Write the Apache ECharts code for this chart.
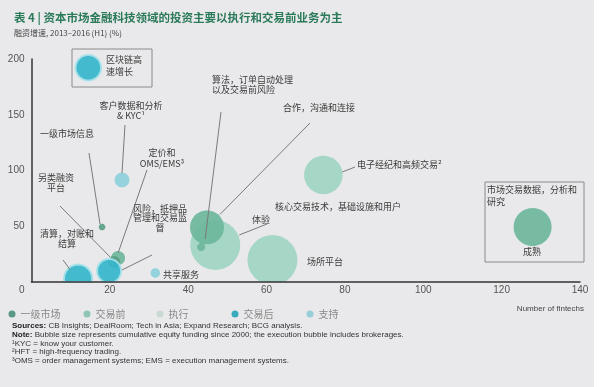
<!DOCTYPE html>
<html><head><meta charset="utf-8">
<script src="https://cdn.jsdelivr.net/npm/echarts@6/dist/echarts.min.js"></script>
<style>html,body{margin:0;padding:0;background:#fff}#c{width:600px;height:387px}</style>
</head><body><div id="c"></div>
<script>
// ---------- data ----------
const categories = ['一级市场', '交易前', '执行', '交易后', '支持'];
const xTicks = [0, 20, 40, 60, 80, 100, 120, 140];
const yTicks = [0, 50, 100, 150, 200];

// 一级市场 (primary market)
const primaryNames = ['一级市场信息', '另类融资平台'];
const primaryX = [18.0, 21.1];
const primaryY = [49.3, 17.9];
const primaryFunding = [1.2, 4];

// 交易前 (pre-trade)
const preTradeNames = ['定价和OMS/EMS', '合作，沟通和连接', '算法，订单自动处理以及交易前风险', '市场交易数据，分析和研究'];
const preTradeX = [22.1, 44.8, 43.3, 127.9];
const preTradeY = [21.5, 49.0, 31.4, 49.3];
const preTradeFunding = [5.4, 32, 1.8, 40];

// 执行 (execution)
const executionNames = ['核心交易技术，基础设施和用户体验', '场所平台', '电子经纪和高频交易'];
const executionX = [46.9, 61.5, 74.5];
const executionY = [33.2, 19.7, 96.0];
const executionFunding = [69, 69, 41];

// 交易后 (post-trade)
const postTradeNames = ['区块链高速增长', '清算，对账和结算', '风险，抵押品管理和交易监督'];
const postTradeX = [14.5, 11.9, 19.8];
const postTradeY = [192.2, 3.0, 9.9];
const postTradeFunding = [18, 22, 16];

// 支持 (support)
const supportNames = ['客户数据和分析 & KYC', '共享服务'];
const supportX = [23.1, 31.6];
const supportY = [91.5, 8.1];
const supportFunding = [6, 2.5];

// ---------- styles ----------
const FONT = '"Liberation Sans", "Noto Sans CJK SC", sans-serif';
const CJK = '"Noto Sans CJK SC", "Liberation Sans", sans-serif';
const colors = {
  '一级市场': {fill: '#5c9f88', stroke: null, legend: '#5a9a85'},
  '交易前': {fill: '#6db79c', stroke: null, legend: '#8fc6b3'},
  '执行': {fill: '#a0d5c3', stroke: null, legend: '#cbd9d3'},
  '交易后': {fill: '#36b6cb', stroke: '#a6e1ea', legend: '#3aaabd'},
  '支持': {fill: '#8dd1dc', stroke: null, legend: '#96cfd8'}
};

function zip(xs, ys, fs, names) {
  return xs.map((x, i) => ({name: names[i], value: [x, ys[i], fs[i]]}));
}
const seriesData = {
  '一级市场': zip(primaryX, primaryY, primaryFunding, primaryNames),
  '交易前': zip(preTradeX, preTradeY, preTradeFunding, preTradeNames),
  '执行': zip(executionX, executionY, executionFunding, executionNames),
  '交易后': zip(postTradeX, postTradeY, postTradeFunding, postTradeNames),
  '支持': zip(supportX, supportY, supportFunding, supportNames)
};
const zOrder = {'一级市场': 4, '交易前': 3, '执行': 2, '交易后': 5, '支持': 5};

function radius(v) { return Math.sqrt(v) * 3; }

const series = categories.map(cat => ({
  type: 'custom',
  name: cat,
  z: zOrder[cat],
  clip: false,
  itemStyle: {color: colors[cat].fill},
  encode: {x: 0, y: 1},
  data: seriesData[cat],
  renderItem: function (params, api) {
    const p = api.coord([api.value(0), api.value(1)]);
    const base = api.coord([0, 0])[1];
    const r = radius(api.value(2));
    const c = colors[cat];
    const pts = [];
    const n = 72;
    for (let k = 0; k < n; k++) {
      const t = 2 * Math.PI * k / n;
      pts.push([p[0] + r * Math.cos(t), Math.min(base, p[1] + r * Math.sin(t))]);
    }
    return {
      type: 'polygon',
      shape: {points: pts},
      style: {fill: c.fill, stroke: c.stroke || null, lineWidth: c.stroke ? 2 : 0, opacity: 0.93}
    };
  }
}));

const legendLefts = [8.5, 83.5, 156.5, 231.5, 306.5];
const legends = categories.map((cat, i) => ({
  data: [{name: cat, itemStyle: {color: colors[cat].legend}}],
  left: legendLefts[i], top: 309, padding: 0,
  icon: 'circle', itemWidth: 7, itemHeight: 7, itemGap: 5,
  selectedMode: false,
  textStyle: {color: '#8a8a8a', fontSize: 10, fontFamily: CJK}
}));

const chart = echarts.init(document.getElementById('c'), null, {renderer: 'canvas'});
chart.setOption({
  backgroundColor: '#e9e9eb',
  animation: false,
  title: [
    {text: '表 4 | 资本市场金融科技领域的投资主要以执行和交易前业务为主', left: 9, top: 7,
     textStyle: {color: '#2b7a5a', fontSize: 11.5, fontWeight: 'bold', fontFamily: CJK}},
    {text: '融资增速, 2013–2016 (H1) (%)', left: 9, top: 24,
     textStyle: {color: '#444', fontSize: 8, fontWeight: 'normal', fontFamily: CJK}}
  ],
  legend: legends,
  grid: {left: 31.5, right: 20, top: 59, bottom: 105, containLabel: false},
  xAxis: {
    type: 'value', min: xTicks[0], max: xTicks[xTicks.length - 1], interval: 20, z: 20,
    axisLine: {show: true, lineStyle: {color: '#333', width: 1.5}},
    axisTick: {show: false}, splitLine: {show: false},
    axisLabel: {showMinLabel: false, color: '#555', fontSize: 10, fontFamily: FONT, margin: 3}
  },
  yAxis: {
    type: 'value', min: yTicks[0], max: yTicks[yTicks.length - 1], interval: 50, z: 20,
    axisLine: {show: true, lineStyle: {color: '#333', width: 1.5}},
    axisTick: {show: false}, splitLine: {show: false},
    axisLabel: {color: '#555', fontSize: 10, fontFamily: FONT, margin: 7,
      formatter: v => v === 0 ? '{z|0}' : String(v),
      rich: {z: {padding: [16, 0, 0, 0], color: '#555', fontSize: 10, fontFamily: FONT}}}
  },
  series: series
});

// ---------- annotations (layout) ----------
const annotations = [
  {text: '客户数据和分析\n& KYC¹', x: 131, y: 111, align: 'center', lh: 10, from: [125, 125], cat: '支持', idx: 0, off: [0, -7]},
  {text: '一级市场信息', x: 67, y: 134, align: 'center', lh: 10, from: [89, 153], cat: '一级市场', idx: 0, off: [-2, -3]},
  {text: '定价和\nOMS/EMS³', x: 162, y: 158, align: 'center', lh: 11, from: [147, 170], cat: '交易前', idx: 0, off: [0, -5]},
  {text: '另类融资\n平台', x: 56, y: 183, align: 'center', lh: 10, from: [60, 206], cat: '一级市场', idx: 1, off: [-4, -5]},
  {text: '风险，抵押品\n管理和交易监\n督', x: 160, y: 218, align: 'center', lh: 9.5, from: [152, 255], cat: '交易后', idx: 2, off: [13, -1]},
  {text: '清算，对账和\n结算', x: 67, y: 239, align: 'center', lh: 10, from: [63, 260], cat: '交易后', idx: 1, off: [-8, -9]},
  {text: '共享服务', x: 163, y: 275, align: 'left', lh: 10},
  {text: '算法，订单自动处理\n以及交易前风险', x: 212, y: 85, align: 'left', lh: 10, from: [221, 112], cat: '交易前', idx: 2, off: [4, -8]},
  {text: '合作，沟通和连接', x: 283, y: 108, align: 'left', lh: 10, from: [310, 123], cat: '交易前', idx: 1, off: [13, -13]},
  {text: '电子经纪和高频交易²', x: 357, y: 165, align: 'left', lh: 10, from: [355, 167], cat: '执行', idx: 2, off: [19, -3]},
  {text: '核心交易技术，基础设施和用户', x: 275, y: 207, align: 'left', lh: 10},
  {text: '体验', x: 252, y: 220, align: 'left', lh: 10, from: [267, 224], cat: '执行', idx: 0, off: [24, -10]},
  {text: '场所平台', x: 307, y: 262, align: 'left', lh: 10},
  {text: '市场交易数据，分析和\n研究', x: 487, y: 196, align: 'left', lh: 12},
  {text: '成熟', x: 532, y: 252, align: 'center', lh: 10},
  {text: '区块链高\n速增长', x: 106, y: 66, align: 'left', lh: 12}
];

const graphics = [];
graphics.push({type: 'rect', shape: {x: 594, y: 0, width: 6, height: 387}, style: {fill: '#ffffff'}, z: 100});
graphics.push({type: 'rect', shape: {x: 72, y: 49, width: 80, height: 38}, style: {fill: 'none', stroke: '#8a8a8a', lineWidth: 1}, z: 1});
graphics.push({type: 'rect', shape: {x: 485, y: 182, width: 99, height: 80}, style: {fill: 'none', stroke: '#8a8a8a', lineWidth: 1}, z: 1});

annotations.forEach(a => {
  graphics.push({type: 'text', x: a.x, y: a.y, z: 10,
    style: {text: a.text, fill: '#3a3a3a', fontSize: 9, fontFamily: CJK, align: a.align, verticalAlign: 'middle', lineHeight: a.lh}});
  if (a.from) {
    const d = seriesData[a.cat][a.idx].value;
    const p = chart.convertToPixel({xAxisIndex: 0, yAxisIndex: 0}, [d[0], d[1]]);
    graphics.push({type: 'line', z: 9,
      shape: {x1: a.from[0], y1: a.from[1], x2: p[0] + a.off[0], y2: p[1] + a.off[1]},
      style: {stroke: '#7a7a7a', lineWidth: 1}});
  }
});

graphics.push({type: 'text', x: 584, y: 309, z: 10,
  style: {text: 'Number of fintechs', fill: '#444', fontSize: 8, fontFamily: FONT, align: 'right', verticalAlign: 'middle'}});

const notes = [
  '{b|Sources:} CB Insights; DealRoom; Tech in Asia; Expand Research; BCG analysis.',
  '{b|Note:} Bubble size represents cumulative equity funding since 2000; the execution bubble includes brokerages.',
  '¹KYC = know your customer.',
  '²HFT = high-frequency trading.',
  '³OMS = order management systems; EMS = execution management systems.'
];
notes.forEach((t, i) => {
  graphics.push({type: 'text', x: 12, y: 326 + i * 8.7, z: 10,
    style: {text: t, fill: '#333', fontSize: 8, fontFamily: FONT, align: 'left', verticalAlign: 'middle',
      rich: {b: {fontWeight: 'bold', fill: '#222', fontSize: 8, fontFamily: FONT}}}});
});

chart.setOption({graphic: graphics});
</script>
</body></html>
